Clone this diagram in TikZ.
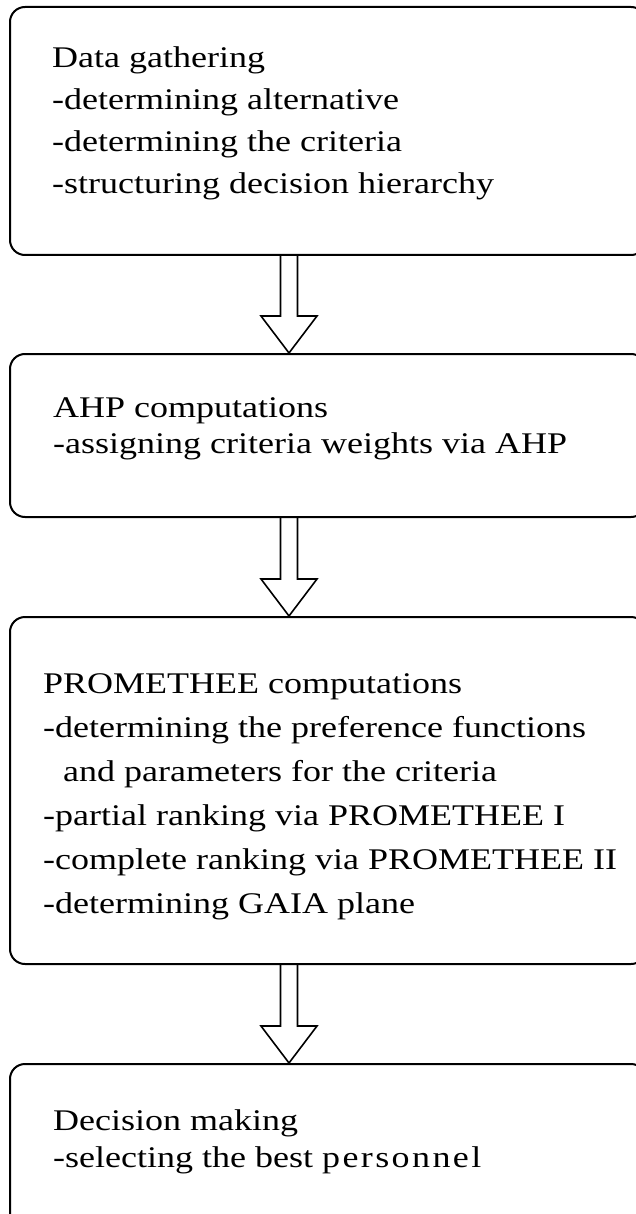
\documentclass[tikz,border=0pt]{standalone}
\usepackage{fontspec}
\setmainfont{Liberation Serif}[FakeStretch=1.2]
\usetikzlibrary{calc}
\newcommand\boxfont{\fontsize{30}{42}\selectfont}
\newcommand\hollowarrow[2]{%
  \draw[hollow] ($(#1.south -| cx)+(-8.5,0)$) -- ($(#2.north -| cx)+(-8.5,-37)$)
    -- ++(-19.5,0) -- (#2.north -| cx) -- ++(28,-37) -- ++(-19.5,0)
    -- ($(#1.south -| cx)+(8.5,0)$);}
\begin{document}
\begin{tikzpicture}[x=1pt,y=-1pt,
  stage/.style={draw, line width=2pt, rounded corners=15pt, inner sep=0pt},
  txt/.style={anchor=base west, inner sep=0pt, font=\boxfont},
  hollow/.style={draw, line width=1.6pt, line join=miter}]
\useasboundingbox (0,0) rectangle (636,1214);
\fill[white] (0,0) rectangle (636,1214);
\node[stage, minimum width=636pt, minimum height=248pt] (b1) at (328,131) {};
\node[stage, minimum width=636pt, minimum height=163pt] (b2) at (328,435.5) {};
\node[stage, minimum width=636pt, minimum height=347pt] (b3) at (328,790.5) {};
\node[stage, minimum width=636pt, minimum height=176pt] (b4) at (328,1152) {};
\coordinate (cx) at (289,0);
\hollowarrow{b1}{b2}
\hollowarrow{b2}{b3}
\hollowarrow{b3}{b4}
\node[txt] (t1) at (52,68) {\vtop{\baselineskip=42pt
  \hbox{Data gathering}
  \hbox{-determining alternative}
  \hbox{-determining the criteria}
  \hbox{-structuring decision hierarchy}}};
\node[txt] (t2) at (53,417) {\vtop{\baselineskip=36pt
  \hbox{AHP computations}
  \hbox{-assigning criteria weights via AHP}}};
\node[txt] (t3) at (43,693) {\vtop{\baselineskip=44pt
  \hbox{PROMETHEE computations}
  \hbox{-determining the preference functions}
  \hbox{\hspace{20pt}and parameters for the criteria}
  \hbox{-partial ranking via PROMETHEE I}
  \hbox{-complete ranking via PROMETHEE II}
  \hbox{-determining GAIA plane}}};
\node[txt] (t4) at (53,1130) {\vtop{\baselineskip=37pt
  \hbox{Decision making}
  \hbox{-selecting the best {\addfontfeature{LetterSpace=8}personnel}}}};
\end{tikzpicture}
\end{document}
